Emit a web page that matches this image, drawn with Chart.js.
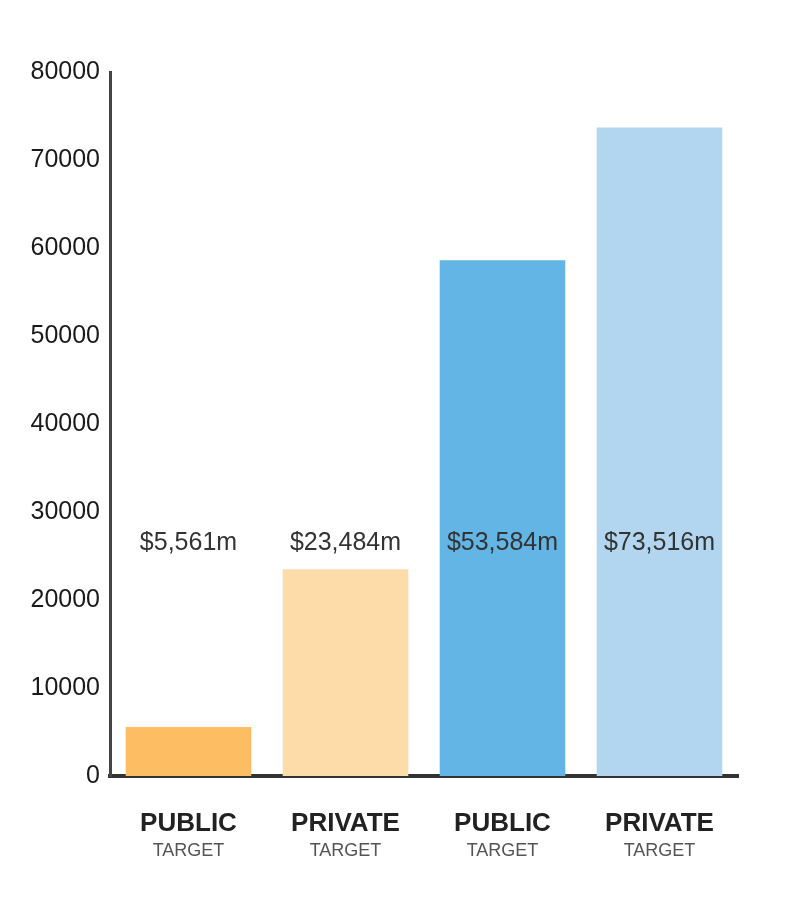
<!DOCTYPE html>
<html>
<head>
<meta charset="utf-8">
<script src="https://cdn.jsdelivr.net/npm/chart.js@4"></script>
<style>
  body { margin: 0; background: #fff; }
  #wrap { width: 800px; height: 900px; }
</style>
</head>
<body>
<div id="wrap"><canvas id="chart" width="800" height="900"></canvas></div>
<script>
// Chart data
const categories = ['PUBLIC', 'PRIVATE', 'PUBLIC', 'PRIVATE'];
const subLabels = ['TARGET', 'TARGET', 'TARGET', 'TARGET'];
const values = [5561, 23484, 58600, 73700];
const valueLabels = ['$5,561m', '$23,484m', '$53,584m', '$73,516m'];
const barColors = ['#FDBE63', '#FDDCAA', '#62B5E5', '#B2D6F0'];
const yTicks = [0, 10000, 20000, 30000, 40000, 50000, 60000, 70000, 80000];

const labelLevel = 26500; // value labels all sit at the same height

// Draw value labels and two-line category labels
const textPlugin = {
    id: 'texts',
    afterDatasetsDraw(chart) {
        const c = chart.ctx;
        const x = chart.scales.x;
        const y = chart.scales.y;
        c.save();
        c.textAlign = 'center';
        c.textBaseline = 'middle';
        valueLabels.forEach((t, i) => {
            c.font = '25px "Liberation Sans", Arial, sans-serif';
            c.fillStyle = '#333';
            c.fillText(t, x.getPixelForValue(i), y.getPixelForValue(labelLevel));
        });
        categories.forEach((t, i) => {
            const px = x.getPixelForValue(i);
            c.font = 'bold 26px "Liberation Sans", Arial, sans-serif';
            c.fillStyle = '#222';
            c.fillText(t, px, chart.chartArea.bottom + 48);
            c.font = '18px "Liberation Sans", Arial, sans-serif';
            c.fillStyle = '#555';
            c.fillText(subLabels[i], px, chart.chartArea.bottom + 75);
        });
        c.restore();
    }
};

const ctx = document.getElementById('chart').getContext('2d');
const chart = new Chart(ctx, {
    type: 'bar',
    data: {
        labels: categories,
        datasets: [{
            data: values,
            backgroundColor: barColors,
            barPercentage: 0.8,
            categoryPercentage: 1
        }]
    },
    plugins: [textPlugin],
    options: {
        responsive: false,
        animation: false,
        layout: { padding: { top: 72, right: 62, left: 0, bottom: 0 } },
        plugins: { legend: { display: false }, tooltip: { enabled: false } },
        scales: {
            x: {
                grid: { display: false, drawTicks: false },
                border: { display: true, color: '#333', width: 4 },
                ticks: { display: false },
                afterFit(scale) { scale.height = 124; }
            },
            y: {
                min: 0,
                max: 80000,
                afterBuildTicks(scale) { scale.ticks = yTicks.map(v => ({ value: v })); },
                grid: { display: false, drawTicks: false },
                border: { display: true, color: '#444', width: 3 },
                ticks: {
                    padding: 10,
                    color: '#1a1a1a',
                    font: { size: 25, family: '"Liberation Sans", Arial, sans-serif' },
                    callback: v => String(v)
                },
                afterFit(scale) { scale.width = 110; }
            }
        }
    }
});
</script>
</body>
</html>
